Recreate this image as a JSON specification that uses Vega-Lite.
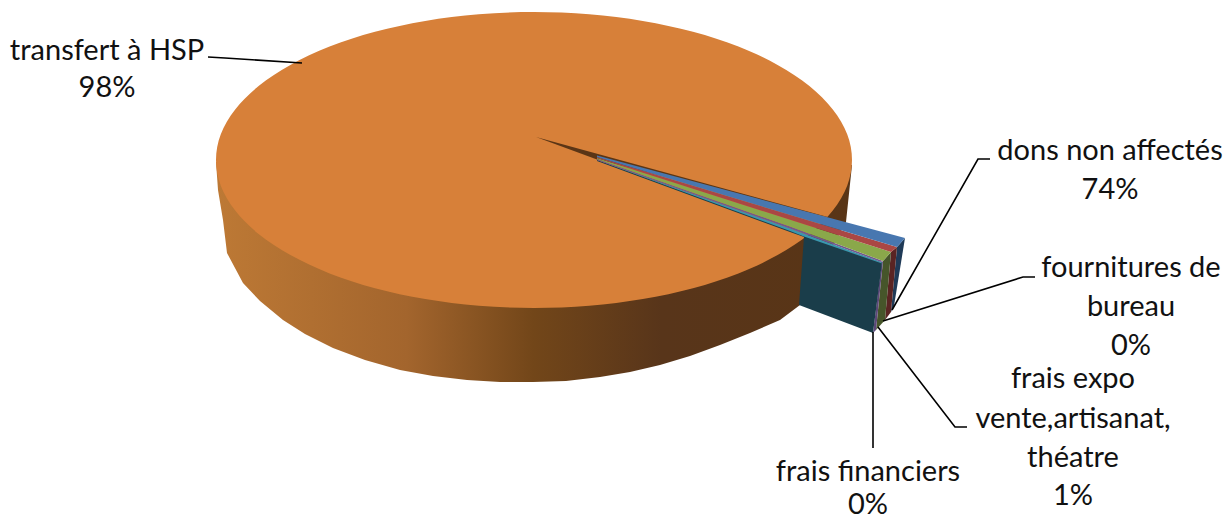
{"$schema":"https://vega.github.io/schema/vega-lite/v6.json","width":1231,"height":520,"autosize":{"type":"none"},"padding":0,"background":"white","view":{"stroke":null},
"datasets":{
"wall":[{"i":0,"x":216,"y":162},{"i":1,"x":218,"y":190},{"i":2,"x":223,"y":220},{"i":3,"x":227,"y":253},{"i":4,"x":243,"y":283},{"i":5,"x":260,"y":301},{"i":6,"x":283,"y":320},{"i":7,"x":305,"y":334},{"i":8,"x":333,"y":348},{"i":9,"x":365,"y":360},{"i":10,"x":400,"y":370},{"i":11,"x":433,"y":376},{"i":12,"x":467,"y":380},{"i":13,"x":500,"y":382},{"i":14,"x":533,"y":382},{"i":15,"x":566,"y":381},{"i":16,"x":600,"y":377},{"i":17,"x":630,"y":372},{"i":18,"x":660,"y":365},{"i":19,"x":690,"y":356},{"i":20,"x":720,"y":345},{"i":21,"x":750,"y":333},{"i":22,"x":780,"y":320},{"i":23,"x":800,"y":305},{"i":24,"x":846,"y":222},{"i":25,"x":852,"y":165}],
"top":[{"i":0,"x":852,"y":160},{"i":1,"x":847.2,"y":185.7},{"i":2,"x":832.8,"y":210.6},{"i":3,"x":809.4,"y":234},{"i":4,"x":777.6,"y":255.1},{"i":5,"x":738.4,"y":273.4},{"i":6,"x":693,"y":288.2},{"i":7,"x":642.8,"y":299.1},{"i":8,"x":589.2,"y":305.8},{"i":9,"x":534,"y":308},{"i":10,"x":478.8,"y":305.8},{"i":11,"x":425.2,"y":299.1},{"i":12,"x":375,"y":288.2},{"i":13,"x":329.6,"y":273.4},{"i":14,"x":290.4,"y":255.1},{"i":15,"x":258.6,"y":234},{"i":16,"x":235.2,"y":210.6},{"i":17,"x":220.8,"y":185.7},{"i":18,"x":216,"y":160},{"i":19,"x":220.8,"y":134.3},{"i":20,"x":235.2,"y":109.4},{"i":21,"x":258.6,"y":86},{"i":22,"x":290.4,"y":64.9},{"i":23,"x":329.6,"y":46.6},{"i":24,"x":375,"y":31.8},{"i":25,"x":425.2,"y":20.9},{"i":26,"x":478.8,"y":14.2},{"i":27,"x":534,"y":12},{"i":28,"x":589.2,"y":14.2},{"i":29,"x":642.8,"y":20.9},{"i":30,"x":693,"y":31.8},{"i":31,"x":738.4,"y":46.6},{"i":32,"x":777.6,"y":64.9},{"i":33,"x":809.4,"y":86},{"i":34,"x":832.8,"y":109.4},{"i":35,"x":847.2,"y":134.3}],
"slices":[
{"part":"a sliver","i":0,"x":536,"y":137},{"part":"a sliver","i":1,"x":846,"y":222},{"part":"a sliver","i":2,"x":597,"y":159.5},
{"part":"b navy","i":0,"x":905,"y":238},{"part":"b navy","i":1,"x":897,"y":247},{"part":"b navy","i":2,"x":891,"y":312},{"part":"b navy","i":3,"x":894,"y":306},
{"part":"c redside","i":0,"x":897,"y":247},{"part":"c redside","i":1,"x":891,"y":252},{"part":"c redside","i":2,"x":885,"y":320},{"part":"c redside","i":3,"x":891,"y":312},
{"part":"d greenside","i":0,"x":891,"y":252},{"part":"d greenside","i":1,"x":883,"y":261},{"part":"d greenside","i":2,"x":876,"y":330},{"part":"d greenside","i":3,"x":885,"y":320},
{"part":"e purpleside","i":0,"x":883,"y":261},{"part":"e purpleside","i":1,"x":881.5,"y":262.5},{"part":"e purpleside","i":2,"x":873,"y":333},{"part":"e purpleside","i":3,"x":876,"y":330},
{"part":"f face","i":0,"x":882,"y":262.5},{"part":"f face","i":1,"x":873,"y":333},{"part":"f face","i":2,"x":799,"y":305},{"part":"f face","i":3,"x":804,"y":237},{"part":"f face","i":4,"x":790,"y":232},{"part":"f face","i":5,"x":597,"y":161},{"part":"f face","i":6,"x":597,"y":160},
{"part":"g teal","i":0,"x":597,"y":160},{"part":"g teal","i":1,"x":790,"y":228.5},{"part":"g teal","i":2,"x":881,"y":262},{"part":"g teal","i":3,"x":882,"y":263.5},{"part":"g teal","i":4,"x":804,"y":236.5},{"part":"g teal","i":5,"x":790,"y":231},
{"part":"h purple","i":0,"x":597,"y":159},{"part":"h purple","i":1,"x":790,"y":226.5},{"part":"h purple","i":2,"x":883,"y":261},{"part":"h purple","i":3,"x":881,"y":262},{"part":"h purple","i":4,"x":790,"y":228.5},{"part":"h purple","i":5,"x":597,"y":160},
{"part":"i green","i":0,"x":597,"y":158},{"part":"i green","i":1,"x":891,"y":252},{"part":"i green","i":2,"x":883,"y":261},{"part":"i green","i":3,"x":790,"y":226.5},{"part":"i green","i":4,"x":597,"y":159},
{"part":"j red","i":0,"x":597,"y":157},{"part":"j red","i":1,"x":897,"y":247},{"part":"j red","i":2,"x":891,"y":252},{"part":"j red","i":3,"x":597,"y":158},
{"part":"k blue","i":0,"x":597,"y":155.5},{"part":"k blue","i":1,"x":905,"y":238},{"part":"k blue","i":2,"x":897,"y":247},{"part":"k blue","i":3,"x":597,"y":157}],
"leaders":[
{"label":"transfert","i":0,"x":208,"y":57},{"label":"transfert","i":1,"x":225,"y":58},{"label":"transfert","i":2,"x":302,"y":63},
{"label":"dons","i":0,"x":990,"y":159},{"label":"dons","i":1,"x":978,"y":159},{"label":"dons","i":2,"x":892,"y":310},
{"label":"fournitures","i":0,"x":1035,"y":277},{"label":"fournitures","i":1,"x":1023,"y":277},{"label":"fournitures","i":2,"x":883,"y":321},
{"label":"expo","i":0,"x":967,"y":427},{"label":"expo","i":1,"x":955,"y":427},{"label":"expo","i":2,"x":878,"y":327},
{"label":"financiers","i":0,"x":873,"y":332},{"label":"financiers","i":1,"x":873,"y":448}],
"labels":[
{"t":"transfert à HSP","x":107,"y":51},{"t":"98%","x":107,"y":88},
{"t":"dons non affectés","x":1110,"y":151},{"t":"74%","x":1110,"y":190},
{"t":"fournitures de","x":1131,"y":268},{"t":"bureau","x":1131,"y":307},{"t":"0%","x":1131,"y":346},
{"t":"frais expo","x":1073,"y":379},{"t":"vente,artisanat,","x":1073,"y":419},{"t":"théatre","x":1073,"y":458},{"t":"1%","x":1073,"y":496},
{"t":"frais financiers","x":868,"y":472},{"t":"0%","x":868,"y":505}]},
"encoding":{"x":{"field":"x","type":"quantitative","scale":{"domain":[0,1231]},"axis":null},"y":{"field":"y","type":"quantitative","scale":{"domain":[520,0]},"axis":null}},
"layer":[
{"data":{"name":"wall"},"mark":{"type":"line","interpolate":"linear-closed","strokeWidth":0,"fill":{"gradient":"linear","x1":0,"y1":0,"x2":1,"y2":0,"stops":[{"offset":0,"color":"#bd7935"},{"offset":0.3,"color":"#a3652d"},{"offset":0.5,"color":"#724619"},{"offset":0.7,"color":"#58351a"},{"offset":1,"color":"#593516"}]}},"encoding":{"order":{"field":"i"}}},
{"data":{"name":"top"},"mark":{"type":"line","interpolate":"cardinal-closed","strokeWidth":0,"fill":"#d78039"},"encoding":{"order":{"field":"i"}}},
{"data":{"name":"slices"},"mark":{"type":"line","interpolate":"linear-closed","strokeWidth":0},"encoding":{"order":{"field":"i"},"detail":{"field":"part"},"fill":{"field":"part","type":"nominal","legend":null,"scale":{"domain":["a sliver","b navy","c redside","d greenside","e purpleside","f face","g teal","h purple","i green","j red","k blue"],"range":["#5a3516","#1f3a57","#5a2423","#46552a","#5c4778","#1a3d4a","#3a97ae","#71588f","#8aa84a","#aa4744","#4877b0"]}}}},
{"data":{"name":"leaders"},"mark":{"type":"line","color":"black","strokeWidth":1.6},"encoding":{"order":{"field":"i"},"detail":{"field":"label"}}},
{"data":{"name":"labels"},"mark":{"type":"text","font":"Lato","fontSize":29,"color":"#111111","align":"center","baseline":"middle"},"encoding":{"text":{"field":"t"}}}
]}
